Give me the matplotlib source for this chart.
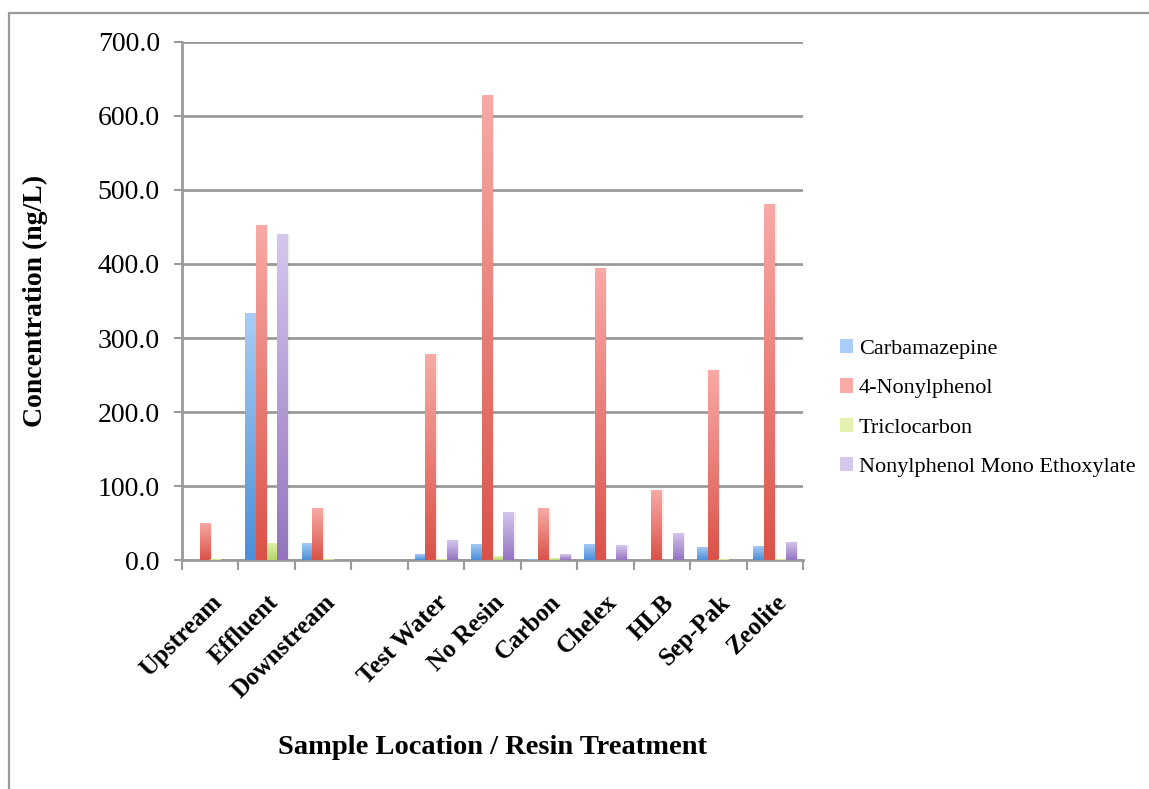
import numpy as np
import matplotlib.pyplot as plt
from matplotlib.patches import Rectangle
from matplotlib.colors import LinearSegmentedColormap

categories = ['Upstream', 'Effluent', 'Downstream', '', 'Test Water', 'No Resin',
              'Carbon', 'Chelex', 'HLB', 'Sep-Pak', 'Zeolite']
carbamazepine = [0, 334, 23, 0, 8, 22, 1, 22, 0, 18, 19]
nonylphenol = [50, 453, 70, 0, 278, 628, 70, 395, 95, 257, 481]
triclocarbon = [1, 23, 1, 0, 1, 5, 2.5, 0, 0, 1, 1]
npme = [0, 441, 0, 0, 27, 65, 8, 20, 37, 0, 25]

series = [('Carbamazepine', carbamazepine, '#a9cdf6', '#4a8fd8'),
          ('4-Nonylphenol', nonylphenol, '#f8aaa6', '#da5249'),
          ('Triclocarbon', triclocarbon, '#e3f2b0', '#b5d56a'),
          ('Nonylphenol Mono Ethoxylate', npme, '#d6c7ee', '#9474c0')]

plt.rcParams['font.family'] = 'Liberation Serif'

fig = plt.figure(figsize=(11.49, 7.89), dpi=100)
ax = fig.add_axes([0.1584, 0.2902, 0.5405, 0.6566])

# outer chart frame (cropped at right and bottom)
fig.patches.append(Rectangle((9 / 1149, -0.1), 1.2, 0.1 + (789 - 13) / 789,
                             transform=fig.transFigure, fill=False,
                             edgecolor='#9a9a9a', linewidth=1.6))

x = np.arange(len(categories))
w = 0.19
grad = np.linspace(0, 1, 256).reshape(-1, 1)
for i, (name, vals, top, bot) in enumerate(series):
    cmap = LinearSegmentedColormap.from_list(name, [bot, top])
    xs = x + (i - 1.5) * w
    bars = ax.bar(xs, vals, w, color='none', edgecolor='none', zorder=3)
    for b in bars:
        h = b.get_height()
        if h <= 0:
            continue
        x0 = b.get_x()
        # soft shadow
        ax.add_patch(Rectangle((x0 + 0.03, 0), w, h, facecolor='#000000',
                               alpha=0.06, edgecolor='none', zorder=2))
        im = ax.imshow(grad, extent=[x0, x0 + w, 0, h], origin='lower',
                       aspect='auto', cmap=cmap, zorder=3)
        im.set_clip_path(b)
    ax.bar([0], [0], color=top, label=name)

ax.set_xlim(-0.5, len(categories) - 0.5)
ax.set_ylim(0, 700)
ax.set_yticks(np.arange(0, 701, 100))
ax.set_yticklabels(['{:.1f}'.format(v) for v in np.arange(0, 701, 100)], fontsize=20)
ax.yaxis.grid(True, color='#9a9a9a', linewidth=2)
ax.set_axisbelow(True)
ax.tick_params(axis='y', length=6, width=1.5, color='#9a9a9a', pad=10)

ax.set_xticks(x)
ax.set_xticklabels(categories, rotation=45, ha='right', rotation_mode='anchor',
                   fontsize=18, fontweight='bold')
ax.tick_params(axis='x', which='major', length=0, pad=22)
ax.set_xticks(np.arange(-0.5, len(categories)), minor=True)
ax.tick_params(axis='x', which='minor', length=7, width=1.5, color='#9a9a9a')

for s in ['top', 'right']:
    ax.spines[s].set_visible(False)
for s in ['left', 'bottom']:
    ax.spines[s].set_color('#9a9a9a')
    ax.spines[s].set_linewidth(2)

ax.set_ylabel('Concentration (ng/L)', fontsize=20, fontweight='bold', labelpad=36)
fig.text(493 / 1149, 1 - 748 / 789, 'Sample Location / Resin Treatment',
         fontsize=20.5, fontweight='bold', ha='center', va='center')

handles, labels = ax.get_legend_handles_labels()
fig.legend(handles, labels, loc='center left', bbox_to_anchor=(820 / 1149, 1 - 408 / 789),
           frameon=False, fontsize=16, handlelength=0.6, handleheight=0.6,
           handletextpad=0.25, labelspacing=0.87)

fig.savefig('out.png', dpi=100)
